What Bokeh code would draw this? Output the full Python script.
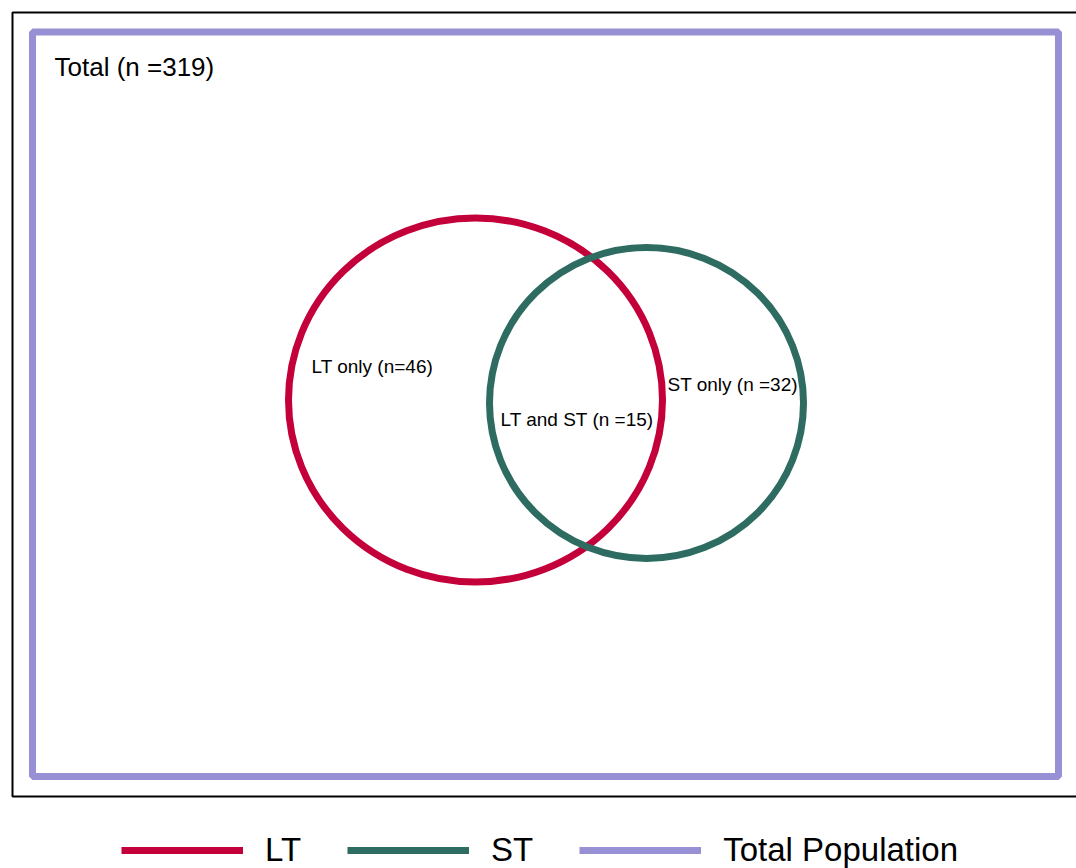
from bokeh.plotting import figure
from bokeh.models import Range1d, BoxAnnotation, Legend, LegendItem, ColumnDataSource
from bokeh.core.properties import value
from bokeh.embed import file_html
from bokeh.resources import INLINE

# ---- data ----
total_n = 319
lt_only = 46
lt_and_st = 15
st_only = 32
set_names = ["LT", "ST", "Total Population"]
set_colors = ["#C4003A", "#2E6B60", "#9890D4"]
region_texts = [f"LT only (n={lt_only})", f"LT and ST (n ={lt_and_st})", f"ST only (n ={st_only})"]
total_text = f"Total (n ={total_n})"

# ---- layout geometry (page-like coordinates) ----
circle_x = [475, 646]
circle_y = [399.5, 402.5]
circle_w = [374, 314]
circle_h = [364, 311]
pop_box = dict(left=32, right=1058, top=31.5, bottom=776)
region_x = [311, 500, 667]
region_y = [366, 418.5, 383.5]

FONT = "Liberation Sans"
W, H = 1076, 868

p = figure(width=W, height=H, output_backend="svg", toolbar_location=None,
           x_range=Range1d(0, W), y_range=Range1d(H, 0),
           min_border=0, min_border_left=0, min_border_right=0,
           min_border_top=0, min_border_bottom=0)
p.axis.visible = False
p.grid.visible = False
p.outline_line_color = None
p.background_fill_color = "white"

# outer black frame (right side runs off the canvas)
p.add_layout(BoxAnnotation(left=12, right=1100, top=12, bottom=796,
                           fill_alpha=0, line_color="black", line_alpha=1.0, line_width=2))

# total population box
p.quad(left=[pop_box["left"]], right=[pop_box["right"]], top=[pop_box["top"]],
       bottom=[pop_box["bottom"]], fill_color=None, line_color=set_colors[2], line_width=7)

# set circles
src = ColumnDataSource(dict(x=circle_x, y=circle_y, w=circle_w, h=circle_h,
                            c=set_colors[:2]))
p.ellipse(x="x", y="y", width="w", height="h", source=src, fill_color=None,
          line_color="c", line_width=7)

# labels
p.text(x=region_x, y=region_y, text=region_texts, text_font=value(FONT),
       text_font_size="19px", text_baseline="middle", text_align="left", text_color="black")
p.text(x=[54], y=[66], text=[total_text], text_font=value(FONT),
       text_font_size="26px", text_baseline="middle", text_align="left", text_color="black")

# legend proxies (no visible data; used only for the legend swatches)
nan = float("nan")
items = []
for name, col in zip(set_names, set_colors):
    r = p.line(x=[nan, nan], y=[nan, nan], line_color=col, line_width=7)
    items.append(LegendItem(label=name, renderers=[r]))

legend = Legend(items=items, orientation="horizontal", location=(121, -1),
                glyph_width=122, glyph_height=20, label_standoff=22, spacing=46,
                padding=0, margin=0, border_line_color=None, background_fill_alpha=0,
                label_text_font=FONT, label_text_font_size="33px", label_text_color="black")
p.add_layout(legend)

open("out.html", "w").write(file_html(p, INLINE))
